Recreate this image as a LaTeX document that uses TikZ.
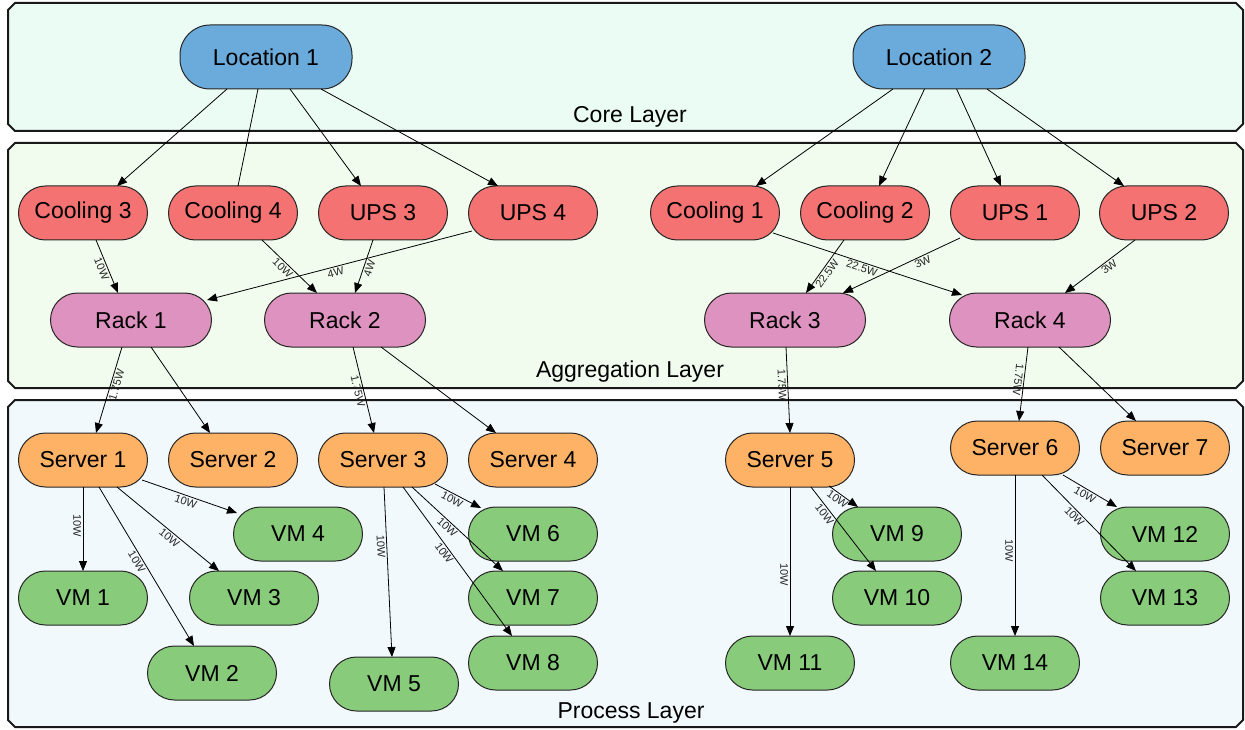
\documentclass[tikz,border=0pt]{standalone}
\usepackage{fontspec}
\setmainfont{Liberation Sans}
\usetikzlibrary{calc,arrows.meta}
\definecolor{corefill}{HTML}{EBFCF5}
\definecolor{aggfill}{HTML}{F1FCEF}
\definecolor{procfill}{HTML}{F2F9FD}
\definecolor{locc}{HTML}{6BABDB}
\definecolor{redc}{HTML}{F47272}
\definecolor{pinkc}{HTML}{DE92BF}
\definecolor{orangec}{HTML}{FDB265}
\definecolor{greenc}{HTML}{88CB7B}
\begin{document}
\begin{tikzpicture}[x=1pt,y=-1pt,
  layer/.style={draw=black!90, line width=2pt, line join=miter},
  layerlab/.style={font=\fontsize{23}{27}\selectfont, inner sep=0pt, anchor=base},
  nd/.style={draw=black!85, line width=1pt, rectangle, rounded corners=27pt, minimum width=129pt, minimum height=54pt, inner sep=0pt, font=\fontsize{23}{27}\selectfont},
  locnd/.style={nd, fill=locc, minimum width=172pt, minimum height=64pt, rounded corners=30pt},
  rednd/.style={nd, fill=redc},
  racknd/.style={nd, fill=pinkc, minimum width=161pt},
  srvnd/.style={nd, fill=orangec},
  vmnd/.style={nd, fill=greenc},
  ln/.style={line width=0.8pt, draw=black},
  arr/.style={ln, -{Triangle[length=10pt,width=8pt]}},
  lab/.style={sloped, below, font=\fontsize{11}{12}\selectfont, text=black!85, inner sep=1.5pt}
]
\useasboundingbox (0,0) rectangle (1245,730);

% layer boxes
\draw[layer, fill=corefill] (15,3) -- (1236,3) -- (1243,10) -- (1243,124) -- (1236,131) -- (15,131) -- (8,124) -- (8,10) -- cycle;
\draw[layer, fill=aggfill] (15,143) -- (1236,143) -- (1243,150) -- (1243,381) -- (1236,388) -- (15,388) -- (8,381) -- (8,150) -- cycle;
\draw[layer, fill=procfill] (15,400) -- (1236,400) -- (1243,407) -- (1243,720) -- (1236,727) -- (15,727) -- (8,720) -- (8,407) -- cycle;

\node[layerlab] (corelab) at (630,123) {Core Layer};
\node[layerlab] (agglab) at (630,377) {Aggregation Layer};
\node[layerlab] (proclab) at (631,718) {Process Layer};

% nodes
\node[locnd] (loc1) at (266,57) {Location 1};
\node[locnd] (loc2) at (939,57) {Location 2};

\node[rednd] (cool3) at (83,213) {Cooling 3};
\node[rednd] (cool4) at (233,213) {Cooling 4};
\node[rednd] (ups3) at (383,213) {UPS 3};
\node[rednd] (ups4) at (533,213) {UPS 4};
\node[rednd] (cool1) at (715,213) {Cooling 1};
\node[rednd] (cool2) at (865,213) {Cooling 2};
\node[rednd] (ups1) at (1015,213) {UPS 1};
\node[rednd] (ups2) at (1164,213) {UPS 2};

\node[racknd] (rack1) at (131,320) {Rack 1};
\node[racknd] (rack2) at (345,320) {Rack 2};
\node[racknd] (rack3) at (785,320) {Rack 3};
\node[racknd] (rack4) at (1030,320) {Rack 4};

\node[srvnd] (srv1) at (83,460) {Server 1};
\node[srvnd] (srv2) at (233,460) {Server 2};
\node[srvnd] (srv3) at (383,460) {Server 3};
\node[srvnd] (srv4) at (533,460) {Server 4};
\node[srvnd] (srv5) at (790,460) {Server 5};
\node[srvnd] (srv6) at (1015,448) {Server 6};
\node[srvnd] (srv7) at (1165,448) {Server 7};

\node[vmnd] (vm1) at (83,598) {VM 1};
\node[vmnd] (vm2) at (212,673) {VM 2};
\node[vmnd] (vm3) at (254,598) {VM 3};
\node[vmnd] (vm4) at (298,534) {VM 4};
\node[vmnd] (vm5) at (394,684) {VM 5};
\node[vmnd] (vm6) at (533,534) {VM 6};
\node[vmnd] (vm7) at (533,598) {VM 7};
\node[vmnd] (vm8) at (533,663) {VM 8};
\node[vmnd] (vm9) at (897,534) {VM 9};
\node[vmnd] (vm10) at (897,598) {VM 10};
\node[vmnd] (vm11) at (790,663) {VM 11};
\node[vmnd] (vm12) at (1165,534) {VM 12};
\node[vmnd] (vm13) at (1165,598) {VM 13};
\node[vmnd] (vm14) at (1015,663) {VM 14};

% core -> aggregation
\draw[arr] ($(loc1)+(-39,32)$) -- ($(cool3)+(34,-27)$);
\draw[ln]  ($(loc1)+(-8,32)$) -- ($(cool4)+(5,-27)$);
\draw[arr] ($(loc1)+(24,32)$) -- ($(ups3)+(-22,-27)$);
\draw[arr] ($(loc1)+(55,32)$) -- ($(ups4)+(-35,-27)$);
\draw[arr] ($(loc2)+(-46,32)$) -- ($(cool1)+(41,-27)$);
\draw[arr] ($(loc2)+(-14.5,32)$) -- ($(cool2)+(14,-27)$);
\draw[arr] ($(loc2)+(17.6,32)$) -- ($(ups1)+(-14,-27)$);
\draw[arr] ($(loc2)+(48,32)$) -- ($(ups2)+(-40,-27)$);

% cooling/ups -> racks
\draw[arr] ($(cool3)+(13,27)$) -- node[lab,pos=0.5] {10W} ($(rack1)+(-13,-27)$);
\draw[arr] ($(cool4)+(29,27)$) -- node[lab,pos=0.45] {10W} ($(rack2)+(-28,-27)$);
\draw[arr] ($(ups3)+(-10,27)$) -- node[lab,pos=0.5] {4W} ($(rack2)+(10,-27)$);
\draw[arr] ($(ups4)+(-61,18)$) -- node[lab,pos=0.52] {4W} ($(rack1)+(76,-20)$);
\draw[arr] ($(cool1)+(58,20)$) -- node[lab,pos=0.48] {22.5W} ($(rack4)+(-68,-25)$);
\draw[arr] ($(cool2)+(-21,27)$) -- node[lab,pos=0.57] {22.5W} ($(rack3)+(21,-27)$);
\draw[arr] ($(ups1)+(-55,25)$) -- node[lab,pos=0.34] {3W} ($(rack3)+(58,-27)$);
\draw[arr] ($(ups2)+(-29,27)$) -- node[lab,pos=0.42] {3W} ($(rack4)+(35,-27)$);

% racks -> servers
\draw[arr] ($(rack1)+(-9,27)$) -- node[lab,pos=0.42] {1.75W} ($(srv1)+(13,-27)$);
\draw[arr] ($(rack1)+(20,27)$) -- ($(srv2)+(-23,-27)$);
\draw[arr] ($(rack2)+(8,27)$) -- node[lab,pos=0.5] {1.75W} ($(srv3)+(-9,-27)$);
\draw[arr] ($(rack2)+(36,27)$) -- ($(srv4)+(-37,-27)$);
\draw[arr] ($(rack3)+(1,27)$) -- node[lab,pos=0.44] {1.75W} ($(srv5)+(0,-27)$);
\draw[arr] ($(rack4)+(-2,27)$) -- node[lab,allow upside down,pos=0.45] {1.75W} ($(srv6)+(4,-27)$);
\draw[arr] ($(rack4)+(29,27)$) -- ($(srv7)+(-29,-27)$);

% servers -> vms
\draw[arr] ($(srv1)+(0,27)$) -- node[lab,pos=0.46] {10W} ($(vm1)+(0,-27)$);
\draw[arr] ($(srv1)+(16,27)$) -- node[lab,pos=0.45] {10W} ($(vm2)+(-18,-27)$);
\draw[arr] ($(srv1)+(34,27)$) -- node[lab,pos=0.55] {10W} ($(vm3)+(-35,-27)$);
\draw[arr] ($(srv1)+(59,20)$) -- node[lab,pos=0.48] {10W} ($(vm4)+(-61,-21)$);
\draw[arr] ($(srv3)+(1,27)$) -- node[lab,pos=0.35] {10W} ($(vm5)+(-2,-27)$);
\draw[arr] ($(srv3)+(52,24)$) -- node[lab,pos=0.43] {10W} ($(vm6)+(-52,-26)$);
\draw[arr] ($(srv3)+(29,27)$) -- node[lab,pos=0.43] {10W} ($(vm7)+(-30,-27)$);
\draw[arr] ($(srv3)+(20,27)$) -- node[lab,pos=0.42] {10W} ($(vm8)+(-21,-27)$);
\draw[arr] ($(srv5)+(0,27)$) -- node[lab,pos=0.59] {10W} ($(vm11)+(0,-27)$);
\draw[arr] ($(srv5)+(39,26)$) -- node[lab,pos=0.41] {10W} ($(vm9)+(-39,-27)$);
\draw[arr] ($(srv5)+(21,27)$) -- node[lab,pos=0.28] {10W} ($(vm10)+(-21,-27)$);
\draw[arr] ($(srv6)+(0,27)$) -- node[lab,pos=0.47] {10W} ($(vm14)+(0,-27)$);
\draw[arr] ($(srv6)+(48,27)$) -- node[lab,pos=0.46] {10W} ($(vm12)+(-48,-27)$);
\draw[arr] ($(srv6)+(27,27)$) -- node[lab,pos=0.39] {10W} ($(vm13)+(-29,-27)$);
\end{tikzpicture}
\end{document}
